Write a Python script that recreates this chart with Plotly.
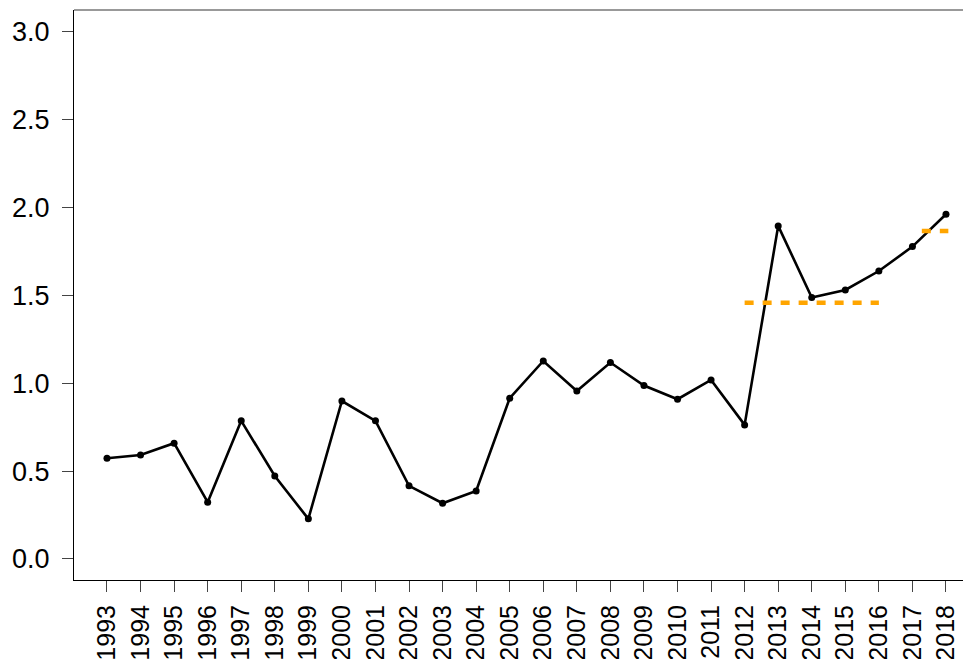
import plotly.graph_objects as go

years = list(range(1993, 2019))
values = [0.573, 0.592, 0.659, 0.323, 0.786, 0.472, 0.228, 0.899, 0.786, 0.416,
          0.317, 0.387, 0.915, 1.127, 0.956, 1.118, 0.987, 0.909, 1.019, 0.763,
          1.896, 1.488, 1.531, 1.639, 1.778, 1.962]
year_labels = [str(y) for y in years]

ref1_x = [2012, 2016]
ref1_y = [1.459, 1.459]
ref2_x = [2017.28, 2018.07]
ref2_y = [1.867, 1.867]

y_ticks = [0.0, 0.5, 1.0, 1.5, 2.0, 2.5, 3.0]

fig = go.Figure()
fig.add_trace(go.Scatter(x=years, y=values, mode="lines+markers",
                         line=dict(color="black", width=2.6),
                         marker=dict(color="black", size=7),
                         showlegend=False))
for rx, ry in [(ref1_x, ref1_y), (ref2_x, ref2_y)]:
    fig.add_trace(go.Scatter(x=rx, y=ry, mode="lines",
                             line=dict(color="#FFA500", width=4.5, dash="9px,9px"),
                             showlegend=False))

yfont = dict(family="Liberation Sans, Arial, sans-serif", size=27, color="black")
xfont = dict(family="Liberation Sans, Arial, sans-serif", size=25, color="black")

# page body has an 8px default margin; figure sized to fit inside the window
fig.update_layout(
    width=955, height=651,
    margin=dict(l=66, r=0, t=2, b=79),
    paper_bgcolor="white", plot_bgcolor="white",
    font=yfont,
    xaxis=dict(range=[1992.017, 2018.507], tickvals=years, ticktext=year_labels,
               tickangle=-90, ticks="outside", ticklen=11, tickcolor="#444",
               showgrid=False, zeroline=False, showline=True, linecolor="black",
               linewidth=1, ticklabelstandoff=3, tickfont=xfont, automargin=False),
    yaxis=dict(range=[-0.12, 3.125], tickvals=y_ticks, tickformat=".1f",
               ticks="outside", ticklen=11, tickcolor="#444",
               showgrid=False, zeroline=False, showline=True, linecolor="black",
               linewidth=1, ticklabelstandoff=7, tickfont=yfont, automargin=False),
    shapes=[dict(type="line", xref="paper", yref="paper", x0=0, x1=1, y0=1, y1=1,
                 line=dict(color="#777", width=1.5))],
)

fig.write_html("out.html")
